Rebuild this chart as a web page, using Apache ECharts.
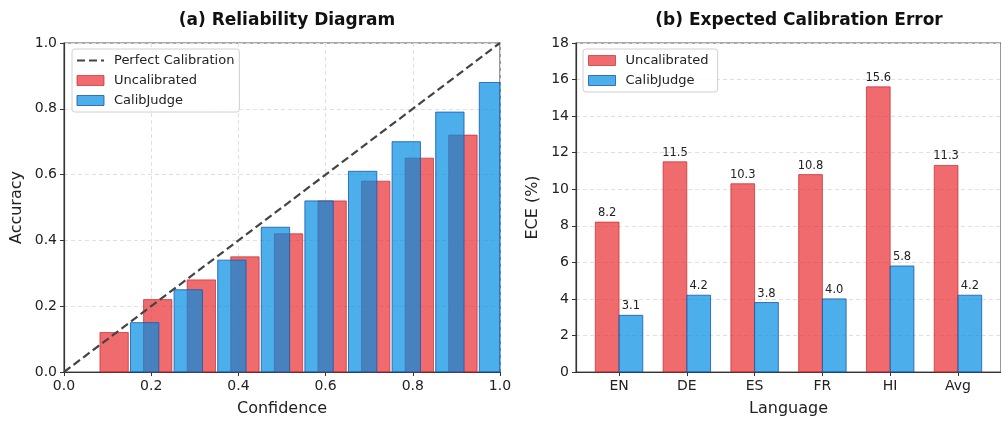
<!DOCTYPE html>
<html>
<head>
<meta charset="utf-8">
<script src="https://cdn.jsdelivr.net/npm/echarts@6/dist/echarts.min.js"></script>
<style>
  html, body { margin: 0; padding: 0; background: #fff; }
  #main { width: 1001px; height: 422px; }
</style>
</head>
<body>
<div id="main"></div>
<script>
// 可靠性图数据
const confidenceBins = [0.15, 0.25, 0.35, 0.45, 0.55, 0.65, 0.75, 0.85, 0.95];
const uncalibratedAcc = [0.12, 0.22, 0.28, 0.35, 0.42, 0.52, 0.58, 0.65, 0.72];
const calibJudgeAcc = [0.15, 0.25, 0.34, 0.44, 0.52, 0.61, 0.70, 0.79, 0.88];
const perfectLine = [[0, 0], [1, 1]];

// ECE数据
const languages = ['EN', 'DE', 'ES', 'FR', 'HI', 'Avg'];
const eceUncalibrated = [8.2, 11.5, 10.3, 10.8, 15.6, 11.3];
const eceCalibJudge = [3.1, 4.2, 3.8, 4.0, 5.8, 4.2];

const FONT = 'DejaVu Sans';
const RED = 'rgba(232,44,48,0.7)';
const RED_EDGE = 'rgba(200,40,44,0.7)';
const BLUE = 'rgba(0,139,225,0.7)';
const BLUE_EDGE = 'rgba(20,90,170,0.8)';

function barRender(offset, width, fill, edge, withLabel) {
  return function (params, api) {
    const x = api.value(0) + offset, y = api.value(1);
    const p0 = api.coord([x - width / 2, y]);
    const p1 = api.coord([x + width / 2, 0]);
    const cs = params.coordSys;
    const rect = echarts.graphic.clipRectByRect(
      { x: p0[0], y: p0[1], width: p1[0] - p0[0], height: p1[1] - p0[1] },
      { x: cs.x, y: cs.y, width: cs.width, height: cs.height }
    );
    if (!rect) return null;
    const children = [{
      type: 'rect', shape: rect,
      style: { fill: fill, stroke: edge, lineWidth: 1 }
    }];
    if (withLabel) {
      children.push({
        type: 'text', x: (p0[0] + p1[0]) / 2, y: p0[1] - 3,
        style: {
          text: y.toFixed(1), align: 'center', verticalAlign: 'bottom',
          fontSize: 11.5, fontFamily: FONT, fill: '#222'
        }
      });
    }
    return { type: 'group', children: children };
  };
}

const axisLine = { show: true, onZero: false, lineStyle: { color: '#333', width: 1.2 } };
const axisTick = { show: true, inside: false, length: 4, lineStyle: { color: '#333' } };
const labelStyle = { fontSize: 14, fontFamily: FONT, color: '#222', margin: 7 };
const nameStyle = { fontSize: 16, fontFamily: FONT, color: '#222' };
const gridLine = { show: true, lineStyle: { color: '#e0e0e0', type: [4, 3], width: 1 } };
const legendText = { fontSize: 13, fontFamily: FONT, color: '#222', padding: [0, 0, 0, 5] };

let chart = echarts.init(document.getElementById('main'));
let option = {
  animation: false,
  backgroundColor: '#fff',
  title: [
    { text: '(a) Reliability Diagram', left: 282, top: 7, textAlign: 'center',
      textStyle: { fontSize: 17, fontWeight: 'bold', fontFamily: FONT, color: '#111' } },
    { text: '(b) Expected Calibration Error', left: 794, top: 7, textAlign: 'center',
      textStyle: { fontSize: 17, fontWeight: 'bold', fontFamily: FONT, color: '#111' } }
  ],
  grid: [
    { left: 64, top: 43, width: 436, height: 329, show: true, borderColor: '#555', borderWidth: 1.2 },
    { left: 576, top: 43, width: 439, height: 329, show: true, borderColor: '#555', borderWidth: 1.2 }
  ],
  legend: [
    {
      orient: 'vertical', left: 72, top: 49, padding: [5, 5, 5, 4], itemGap: 7,
      itemWidth: 27, itemHeight: 10,
      borderColor: '#d0d0d0', borderWidth: 1, borderRadius: 3, backgroundColor: 'rgba(255,255,255,0.85)',
      textStyle: legendText,
      data: [
        { name: 'Perfect Calibration', itemStyle: { opacity: 0 } },
        { name: 'Uncalibrated', icon: 'rect', itemStyle: { color: RED, borderColor: RED_EDGE, borderWidth: 1 } },
        { name: 'CalibJudge', icon: 'rect', itemStyle: { color: BLUE, borderColor: BLUE_EDGE, borderWidth: 1 } }
      ]
    },
    {
      orient: 'vertical', left: 583, top: 49, padding: [5, 5, 5, 5], itemGap: 7,
      itemWidth: 27, itemHeight: 10,
      borderColor: '#d0d0d0', borderWidth: 1, borderRadius: 3, backgroundColor: 'rgba(255,255,255,0.85)',
      textStyle: legendText,
      data: [
        { name: 'Uncalibrated ', icon: 'rect', itemStyle: { color: RED, borderColor: RED_EDGE, borderWidth: 1 } },
        { name: 'CalibJudge ', icon: 'rect', itemStyle: { color: BLUE, borderColor: BLUE_EDGE, borderWidth: 1 } }
      ]
    }
  ],
  xAxis: [
    {
      type: 'value', gridIndex: 0, min: 0, max: 1, interval: 0.2,
      name: 'Confidence', nameLocation: 'middle', nameGap: 29, nameTextStyle: nameStyle,
      axisLine: axisLine, axisTick: axisTick,
      axisLabel: Object.assign({ formatter: v => v.toFixed(1) }, labelStyle),
      splitLine: gridLine
    },
    {
      type: 'value', gridIndex: 1, min: -0.635, max: 5.635,
      name: 'Language', nameLocation: 'middle', nameGap: 29, nameTextStyle: nameStyle,
      axisLine: axisLine,
      axisTick: Object.assign({ customValues: [0, 1, 2, 3, 4, 5] }, axisTick),
      axisLabel: Object.assign({ customValues: [0, 1, 2, 3, 4, 5], formatter: v => languages[Math.round(v)] }, labelStyle),
      splitLine: { show: false }
    }
  ],
  yAxis: [
    {
      type: 'value', gridIndex: 0, min: 0, max: 1, interval: 0.2,
      name: 'Accuracy', nameLocation: 'middle', nameGap: 39, nameTextStyle: nameStyle,
      axisLine: axisLine, axisTick: axisTick,
      axisLabel: Object.assign({ formatter: v => v.toFixed(1) }, labelStyle),
      splitLine: gridLine
    },
    {
      type: 'value', gridIndex: 1, min: 0, max: 18, interval: 2,
      name: 'ECE (%)', nameLocation: 'middle', nameGap: 35, nameTextStyle: nameStyle,
      axisLine: axisLine, axisTick: axisTick,
      axisLabel: labelStyle,
      splitLine: gridLine
    }
  ],
  series: [
    {
      name: 'Uncalibrated', type: 'custom', xAxisIndex: 0, yAxisIndex: 0, z: 2,
      itemStyle: { color: RED },
      renderItem: barRender(-0.035, 0.065, RED, RED_EDGE, false),
      encode: { x: 0, y: 1 },
      data: confidenceBins.map((c, i) => [c, uncalibratedAcc[i]])
    },
    {
      name: 'CalibJudge', type: 'custom', xAxisIndex: 0, yAxisIndex: 0, z: 3,
      itemStyle: { color: BLUE },
      renderItem: barRender(0.035, 0.065, BLUE, BLUE_EDGE, false),
      encode: { x: 0, y: 1 },
      data: confidenceBins.map((c, i) => [c, calibJudgeAcc[i]])
    },
    {
      name: 'Perfect Calibration', type: 'line', xAxisIndex: 0, yAxisIndex: 0, z: 5,
      symbol: 'none', color: '#444',
      lineStyle: { color: '#444', width: 2.2, type: [8, 4] },
      data: perfectLine
    },
    {
      name: 'Uncalibrated ', type: 'custom', xAxisIndex: 1, yAxisIndex: 1, z: 2,
      itemStyle: { color: RED },
      renderItem: barRender(-0.175, 0.35, RED, RED_EDGE, true),
      encode: { x: 0, y: 1 },
      data: languages.map((l, i) => [i, eceUncalibrated[i]])
    },
    {
      name: 'CalibJudge ', type: 'custom', xAxisIndex: 1, yAxisIndex: 1, z: 2,
      itemStyle: { color: BLUE },
      renderItem: barRender(0.175, 0.35, BLUE, BLUE_EDGE, true),
      encode: { x: 0, y: 1 },
      data: languages.map((l, i) => [i, eceCalibJudge[i]])
    }
  ]
};
chart.setOption(option);
</script>
</body>
</html>
